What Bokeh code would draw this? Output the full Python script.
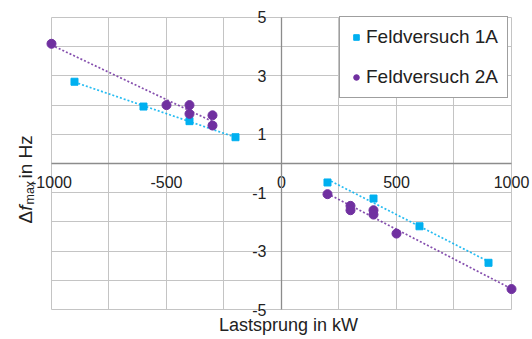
import numpy as np
from bokeh.plotting import figure
from bokeh.models import (Range1d, FixedTicker, Label, Legend, LegendItem,
                          CustomJSTickFormatter)
from bokeh.embed import file_html
from bokeh.resources import INLINE

# ---- data ----
x_1a = [-900, -600, -400, -200, 200, 400, 600, 900]
y_1a = [2.8, 1.95, 1.45, 0.9, -0.65, -1.2, -2.15, -3.4]
x_2a = [-1000, -500, -400, -400, -300, -300, 200, 300, 300, 400, 400, 500, 1000]
y_2a = [4.1, 2.0, 2.0, 1.7, 1.65, 1.3, -1.05, -1.45, -1.6, -1.6, -1.75, -2.4, -4.3]
x_ticks = [-1000, -500, 0, 500, 1000]
x_grid = [-1000, -750, -500, -250, 0, 250, 500, 750, 1000]
y_ticks = [-5, -3, -1, 1, 3, 5]
y_grid = [-5, -4, -3, -2, -1, 0, 1, 2, 3, 4, 5]
series_names = ["Feldversuch 1A", "Feldversuch 2A"]

C1 = "#00B0F0"
C2 = "#7030A0"
FONT = "Liberation Sans"
W, H = 532, 339

# frame covers the whole canvas; ranges chosen so that the -1000..1000 / -5..5
# box sits where it does in the reference
p = figure(width=W, height=H, output_backend="svg", toolbar_location=None,
           x_range=Range1d(-1221.7, 1091.3), y_range=Range1d(-6.027, 5.582),
           min_border_left=0, min_border_right=0, min_border_top=0,
           min_border_bottom=0)
p.outline_line_color = None
p.background_fill_color = "white"
p.border_fill_color = "white"

# grid
p.xgrid.ticker = FixedTicker(ticks=x_grid)
p.ygrid.ticker = FixedTicker(ticks=y_grid)
p.xgrid.cross_bounds = (min(y_grid), max(y_grid))
p.ygrid.cross_bounds = (min(x_grid), max(x_grid))
for g in (p.xgrid, p.ygrid):
    g.grid_line_color = "#c4c4c4"
    g.grid_line_width = 1

# axes crossing at origin
xa = p.xaxis[0]
ya = p.yaxis[0]
xa.fixed_location = 0
ya.fixed_location = 0
xa.ticker = FixedTicker(ticks=x_ticks)
ya.ticker = FixedTicker(ticks=y_ticks)
xa.bounds = (min(x_grid), max(x_grid))
ya.bounds = (min(y_grid), max(y_grid))
fmt = CustomJSTickFormatter(code="return tick.toString()")
for ax in (xa, ya):
    ax.formatter = fmt
    ax.axis_line_color = "#8c8c8c"
    ax.axis_line_width = 1.3
    ax.major_tick_in = 0
    ax.major_tick_out = 0
    ax.minor_tick_in = 0
    ax.minor_tick_out = 0
    ax.major_label_text_font = FONT
    ax.major_label_text_font_size = "16px"
    ax.major_label_text_color = "#222222"
xa.major_label_standoff = 12
ya.major_label_standoff = 15

# trend lines (least-squares fit per side)
def trend(xs, ys, color):
    xs = np.asarray(xs, float)
    ys = np.asarray(ys, float)
    for mask in (xs < 0, xs > 0):
        k, d = np.polyfit(xs[mask], ys[mask], 1)
        lx = np.array([xs[mask].min(), xs[mask].max()])
        p.line(lx, k * lx + d, line_color=color, line_width=1.7,
               line_dash="2 2", line_alpha=0.85)

trend(x_1a, y_1a, C1)
trend(x_2a, y_2a, C2)

r1 = p.scatter(x_1a, y_1a, marker="square", size=7, fill_color=C1, line_color=C1)
r2 = p.scatter(x_2a, y_2a, marker="circle", size=9, fill_color=C2, line_color=C2)

legend = Legend(items=[LegendItem(label=series_names[0], renderers=[r1]),
                       LegendItem(label=series_names[1], renderers=[r2])],
                location=(339, H - 98), orientation="vertical")
legend.label_text_font = FONT
legend.label_text_font_size = "19px"
legend.label_text_color = "#222222"
legend.label_height = 20
legend.glyph_height = 20
legend.glyph_width = 14
legend.label_standoff = 3
legend.padding = 9
legend.spacing = 18
legend.margin = 0
legend.border_line_color = "#404040"
legend.border_line_width = 1
legend.background_fill_color = "white"
legend.background_fill_alpha = 1
p.add_layout(legend, "center")

# x axis title
p.add_layout(Label(x=288, y=5, x_units="screen", y_units="screen",
                   text="Lastsprung in kW", text_font=FONT, text_font_size="18px",
                   text_align="center", text_baseline="bottom",
                   text_color="#222222"))

# y axis title: Δ f_max in Hz, rotated
ang = np.pi / 2
pieces = [
    ("Δ", 25, H - 223, "normal", "19px"),
    ("f", 25, H - 210.3, "italic", "19px"),
    ("max", 29, H - 204, "normal", "12.5px"),
    (" in Hz", 25, H - 178, "normal", "19px"),
]
for txt, sx, sy, style, size in pieces:
    p.add_layout(Label(x=sx, y=sy, x_units="screen", y_units="screen", text=txt,
                       angle=ang, text_font=FONT, text_font_size=size,
                       text_font_style=style, text_align="left",
                       text_baseline="alphabetic", text_color="#222222"))

open("out.html", "w").write(file_html(p, INLINE))
